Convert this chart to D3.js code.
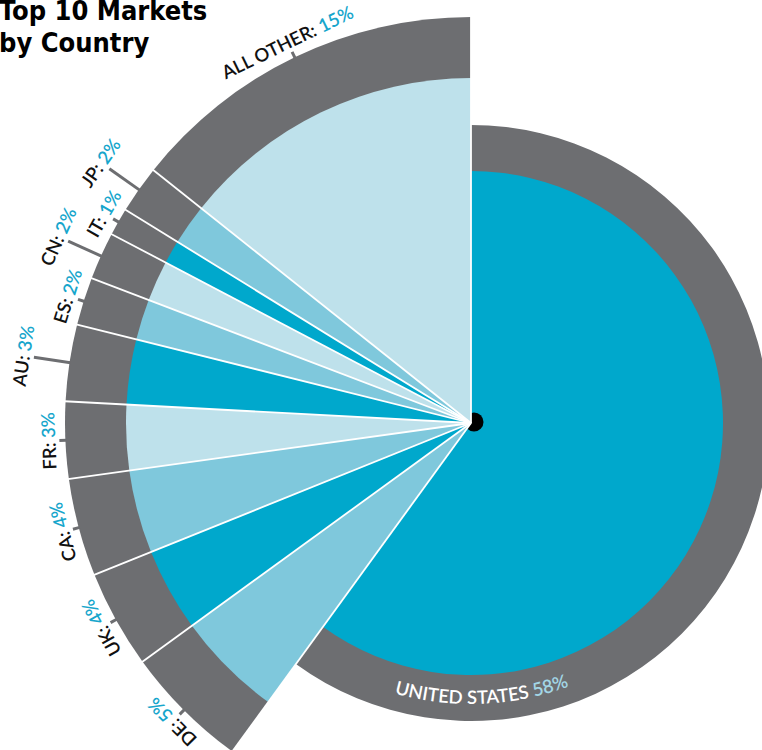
<!DOCTYPE html>
<html>
<head>
<meta charset="utf-8">
<script src="https://cdn.jsdelivr.net/npm/d3@7"></script>
<style>
	body { margin: 0; background: #fff; }
	svg { display: block; }
</style>
</head>
<body>
<div id="chart"></div>
<script>
// clockwise from 12 o'clock
const countries = ['UNITED STATES', 'DE', 'UK', 'CA', 'FR', 'AU', 'ES', 'CN', 'IT', 'JP', 'ALL OTHER']
const percents = [58, 5, 4, 4, 3, 3, 2, 2, 1, 2, 15]
// slice sizes as drawn (read off the angles, not quite the printed labels)
const shares = [60.0, 5.0, 3.9, 3.9, 3.05, 3.05, 1.9, 1.9, 1.1, 1.9, 14.3]
const tones = ['dark', 'medium', 'dark', 'medium', 'light', 'dark', 'medium', 'light', 'dark', 'medium', 'light']
const titleLines = ['Top 10 Markets', 'by Country']

const width = 762
const height = 750
const cx = 471
const cy = 423

const colors = {dark: '#00a8cc', medium: '#7fc8dc', light: '#bee1eb'}
const grey = '#6d6e71'
const cyan = '#17a6cc'
const labelFont = 'Lato, "Open Sans", sans-serif'
const longTicks = ['JP', 'CN', 'AU']

const slices = countries.map((name, i) => ({name, percent: percents[i], share: shares[i], tone: tones[i]}))

const pie = d3.pie().sort(null).value(d => d.share)
const arcs = pie(slices)

const isUS = d => d.data.name === 'UNITED STATES'
const fillRadius = d => isUS(d) ? 252 : 345
const bandRadius = d => isUS(d) ? 298 : 406

const bandArc = d3.arc().innerRadius(0).outerRadius(bandRadius)
const fillArc = d3.arc().innerRadius(0).outerRadius(fillRadius)

const svg = d3.select('#chart').append('svg')
	.attr('width', width)
	.attr('height', height)

const g = svg.append('g').attr('transform', `translate(${cx},${cy})`)

// grey outer bands
g.append('g').selectAll('path')
	.data(arcs)
	.enter()
	.append('path')
	.attr('d', bandArc)
	.attr('fill', grey)

// united states first, then the dot, then the rest on top of it
g.append('path')
	.datum(arcs.find(isUS))
	.attr('d', fillArc)
	.attr('fill', d => colors[d.data.tone])

g.append('circle')
	.attr('cx', 3)
	.attr('cy', -1)
	.attr('r', 9.5)
	.attr('fill', '#000')

g.append('g').selectAll('path')
	.data(arcs.filter(d => !isUS(d)))
	.enter()
	.append('path')
	.attr('d', fillArc)
	.attr('fill', d => colors[d.data.tone])

// white separators
g.append('g').selectAll('line')
	.data(arcs)
	.enter()
	.append('line')
	.each(function(d, i) {
		const prev = arcs[(i + arcs.length - 1) % arcs.length]
		const r = Math.max(bandRadius(d), bandRadius(prev)) + 1
		const p = d3.pointRadial(d.startAngle, r)
		d3.select(this)
			.attr('x1', 0).attr('y1', 0)
			.attr('x2', p[0]).attr('y2', p[1])
	})
	.attr('stroke', '#fff')
	.attr('stroke-width', 1.8)

// ticks and labels
const outer = arcs.filter(d => !isUS(d))
const midAngle = d => (d.startAngle + d.endAngle) / 2
const tickLen = d => longTicks.includes(d.data.name) ? 36 : 6

g.append('g').selectAll('line')
	.data(outer)
	.enter()
	.append('line')
	.each(function(d) {
		const a = d3.pointRadial(midAngle(d), bandRadius(d) - 1)
		const b = d3.pointRadial(midAngle(d), bandRadius(d) + tickLen(d))
		d3.select(this)
			.attr('x1', a[0]).attr('y1', a[1])
			.attr('x2', b[0]).attr('y2', b[1])
	})
	.attr('stroke', grey)
	.attr('stroke-width', 3)

const labels = g.append('g').selectAll('text')
	.data(outer)
	.enter()
	.append('text')
	.attr('transform', d => {
		const p = d3.pointRadial(midAngle(d), bandRadius(d) + tickLen(d) + 4)
		return `translate(${p[0]},${p[1]}) rotate(${midAngle(d) * 180 / Math.PI})`
	})
	.attr('text-anchor', 'middle')
	.style('font-family', labelFont)
	.style('font-weight', 600)
	.style('font-size', '18.5px')

labels.append('tspan')
	.attr('fill', '#111')
	.text(d => d.data.name + ': ')

labels.append('tspan')
	.attr('fill', cyan)
	.text(d => d.data.percent + '%')

// united states label runs along its band
const us = arcs.find(isUS)
const usR = 281
const usCenter = 177.7 * Math.PI / 180
const usPath = d3.path()
const a0 = usCenter + 0.7
const a1 = usCenter - 0.7
const start = d3.pointRadial(a0, usR)
usPath.moveTo(start[0], start[1])
usPath.arc(0, 0, usR, a0 - Math.PI / 2, a1 - Math.PI / 2, true)

g.append('path')
	.attr('id', 'us-label-path')
	.attr('d', usPath.toString())
	.attr('fill', 'none')

const usText = g.append('text')
	.style('font-family', labelFont)
	.style('font-weight', 600)
	.style('font-size', '18.5px')
	.append('textPath')
	.attr('href', '#us-label-path')
	.attr('startOffset', '50%')
	.attr('text-anchor', 'middle')

usText.append('tspan')
	.attr('fill', '#fff')
	.text(us.data.name + ' ')

usText.append('tspan')
	.attr('fill', '#a3d6e6')
	.text(us.data.percent + '%')

// title
svg.append('g').selectAll('text')
	.data(titleLines)
	.enter()
	.append('text')
	.attr('x', -1)
	.attr('y', (d, i) => 20 + i * 32)
	.style('font-family', '"DejaVu Sans Condensed", "DejaVu Sans", sans-serif')
	.style('font-stretch', 'condensed')
	.style('font-weight', 'bold')
	.style('font-size', '27px')
	.attr('fill', '#000')
	.text(d => d)
</script>
</body>
</html>
